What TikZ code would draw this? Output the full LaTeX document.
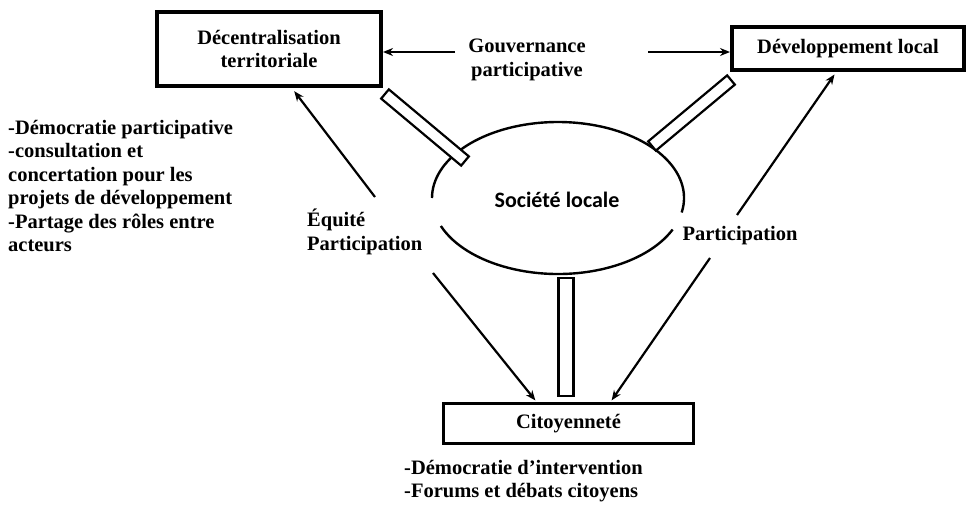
\documentclass[tikz,border=0pt]{standalone}
\usepackage{fontspec}
\setmainfont{Liberation Serif}
\newfontfamily\socfont{Carlito}
\usetikzlibrary{arrows.meta,calc}
\newcommand\drawbar[3]{\draw[bar] ($(#1)!#3!90:(#2)$) -- ($(#2)!#3!-90:(#1)$) -- ($(#2)!#3!90:(#1)$) -- ($(#1)!#3!-90:(#2)$) -- cycle;}
\begin{document}
\begin{tikzpicture}[x=1pt,y=1pt,
  lbl/.style={inner sep=0pt,font=\fontsize{20.5}{23.5}\selectfont\bfseries},
  box/.style={draw,line width=4pt,inner sep=0pt,align=center},
  arr/.style={line width=2.2pt,-{Stealth[length=10pt,width=8pt]}},
  bar/.style={draw,line width=2.2pt,fill=white,line join=miter},
  oval/.style={line width=2.4pt}]
\useasboundingbox[fill=white] (0,0) rectangle (969,-506);
% boxes
\node[lbl,box,minimum width=224pt,minimum height=74pt] (A) at (269,-49) {Décentralisation\\territoriale};
\node[lbl,box,minimum width=232pt,minimum height=43pt] (B) at (848,-48.5) {Développement local};
\node[lbl,box,line width=3pt,minimum width=250pt,minimum height=40pt] (C) at (568.5,-423.5) {Citoyenneté};
% ellipse (two arcs with gaps)
\coordinate (S) at (558,-198);
\draw[oval] (S) ++(-11:126 and 76) arc[start angle=-11,end angle=180,x radius=126,y radius=76];
\draw[oval] (S) ++(201.6:126 and 76) arc[start angle=201.6,end angle=335.5,x radius=126,y radius=76];
\node[inner sep=0pt,font=\socfont\bfseries\fontsize{22}{26}\selectfont] (soc) at (557,-200) {Société locale};
% bars
\coordinate (b1a) at (385,-94); \coordinate (b1b) at (465,-161);
\coordinate (b2a) at (731,-80); \coordinate (b2b) at (652,-146);
\coordinate (b3a) at (566,-278); \coordinate (b3b) at (566,-396);
\drawbar{b1a}{b1b}{6pt}
\drawbar{b2a}{b2b}{6pt}
\drawbar{b3a}{b3b}{7.5pt}
% labels
\node[lbl,align=center] (gouv) at (527,-60) {Gouvernance\\participative};
\node[lbl,align=left,anchor=west] (eq) at (307,-232) {Équité\\Participation};
\node[lbl] (partR) at (740,-236) {Participation};
\node[lbl,align=left,anchor=north west] (list) at (8,-120) {-Démocratie participative\\-consultation et\\concertation pour les\\projets de développement\\-Partage des rôles entre\\acteurs};
\node[lbl,align=left,anchor=north west] (cit) at (404,-460) {-Démocratie d’intervention\\-Forums et débats citoyens};
% arrows
\coordinate (gL) at (455,-52); \draw[arr] (gL) -- (gL -| A.east);
\coordinate (gR) at (648,-52); \draw[arr] (gR) -- (gR -| B.west);
\coordinate (eqS) at (375,-197); \draw[arr,shorten >=4pt] (eqS) -- ($(A.south west)!0.6!(A.south east)$);
\coordinate (pS) at (737,-215); \draw[arr,shorten >=3pt] (pS) -- ($(B.south west)!0.45!(B.south east)$);
\coordinate (ldS) at (433,-273); \draw[arr,shorten >=2pt] (ldS) -- ($(C.north west)!0.374!(C.north east)$);
\coordinate (rdS) at (710,-258); \draw[arr,shorten >=2pt] (rdS) -- ($(C.north west)!0.666!(C.north east)$);
\end{tikzpicture}
\end{document}
